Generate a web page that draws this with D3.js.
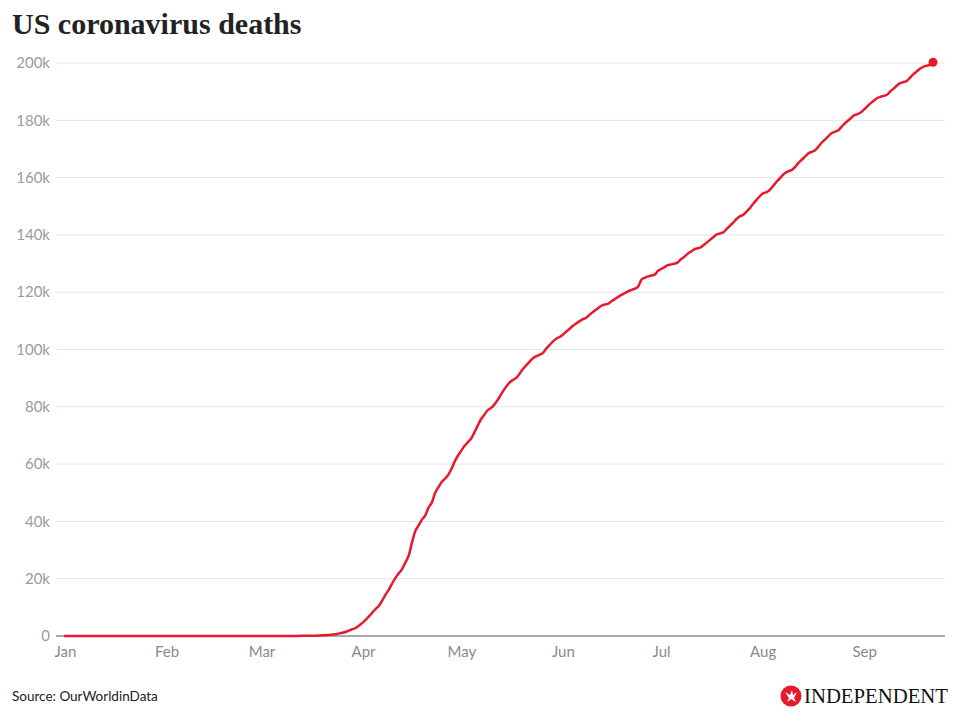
<!DOCTYPE html>
<html><head><meta charset="utf-8">
<script src="https://cdn.jsdelivr.net/npm/d3@7"></script>
<style>
body{margin:0;background:#fff;}
svg{display:block;}
</style></head>
<body>
<svg id="chart" width="960" height="726"></svg>
<script>
// ---- DATA ----
const title = "US coronavirus deaths";
const source = "Source: OurWorldinData";
const yTicks = [0, 20000, 40000, 60000, 80000, 100000, 120000, 140000, 160000, 180000, 200000];
const yTickLabels = ["0","20k","40k","60k","80k","100k","120k","140k","160k","180k","200k"];
const monthTicks = ["2020-01-01","2020-02-01","2020-03-01","2020-04-01","2020-05-01","2020-06-01","2020-07-01","2020-08-01","2020-09-01"];
const monthLabels = ["Jan","Feb","Mar","Apr","May","Jun","Jul","Aug","Sep"];
// sparse early points (no deaths yet)
const earlyDates = ["2020-01-01","2020-01-22","2020-02-15","2020-02-29"];
const earlyDeaths = [0, 0, 0, 0];
// daily cumulative deaths from this date onward
const dailyStart = "2020-03-01";
const dailyDeaths = [
  // March
  1,6,9,11,12,14,17,21,22,28,36,40,47,54,63,85,108,118,200,244,307,427,552,706,942,1209,1581,2026,2467,2978,3873,
  // April
  4757,5926,7087,8407,9619,10783,12722,14695,16478,18586,20463,22020,23529,25832,28326,32916,36773,38664,40661,42094,44845,46622,49954,51949,53755,54881,56219,58355,60966,62996,
  // May
  64715,66369,67682,68934,71078,73431,75662,77180,78795,79526,80682,82246,84059,85898,87530,88754,89562,90347,91921,93439,94702,95979,97049,97689,98220,98916,100442,101617,102836,103781,104381,
  // June
  105147,106195,107175,108211,109042,109802,110514,111007,111978,112967,113820,114669,115436,115732,116127,116963,117717,118435,119132,119719,120402,120802,121225,121979,124415,125039,125539,125803,126140,127425,
  // July
  128105,128740,129437,129676,129947,130306,131480,132309,133291,134097,134862,135291,135605,136466,137403,138360,139266,140157,140534,140905,142064,143190,144305,145546,146463,146935,148056,149256,150716,152075,153314,
  // August
  154447,154860,155478,156801,158249,159435,160737,161687,162222,162766,163833,165229,166317,167434,168508,169006,169546,170796,172166,173289,174370,175480,175993,176426,177632,178823,179838,180826,181786,182191,182779,
  // September
  183830,184961,185982,186898,187780,188239,188542,188938,190110,191063,192177,192939,193350,193715,194902,196116,197023,197966,198663,199059,199371,200275
];

// ---- BUILD ----
const parse = d3.timeParse("%Y-%m-%d");
const points = earlyDates.map((d,i)=>({date:parse(d), value:earlyDeaths[i]}));
const start = parse(dailyStart);
dailyDeaths.forEach((v,i)=>points.push({date:d3.timeDay.offset(start,i), value:v}));
const last = points[points.length-1];

const svg = d3.select("#chart");
const x = d3.scaleTime().domain([parse("2020-01-01"), last.date]).range([65, 933]);
const y = d3.scaleLinear().domain([0, 200000]).range([636, 63]);

// title
svg.append("text").attr("x",12).attr("y",34)
  .attr("font-family","'Liberation Serif','Times New Roman',serif")
  .attr("font-weight","bold").attr("font-size",30).attr("fill","#222")
  .text(title);

// gridlines + y labels
const yAxis = svg.append("g");
yTicks.forEach((t,i)=>{
  if(t!==0){
    yAxis.append("line").attr("x1",56).attr("x2",945).attr("y1",y(t)).attr("y2",y(t))
      .attr("stroke","#e3e3e3").attr("stroke-width",1);
  }
  yAxis.append("text").attr("x",50).attr("y",y(t)).attr("dy","0.35em")
    .attr("text-anchor","end").attr("font-family","Lato,sans-serif").attr("font-size",15)
    .attr("fill","#9b9b9b").text(yTickLabels[i]);
});

// x axis
const xAxis = d3.axisBottom(x)
  .tickValues(monthTicks.map(parse))
  .tickFormat((d,i)=>monthLabels[i])
  .tickSize(0).tickPadding(10);
const gx = svg.append("g").attr("transform","translate(0,636)").call(xAxis);
gx.select(".domain").remove();
gx.selectAll("text").attr("font-family","Lato,sans-serif").attr("font-size",15).attr("fill","#8a8a8a");
svg.append("line").attr("x1",56).attr("x2",945).attr("y1",y(0)).attr("y2",y(0))
  .attr("stroke","#8c8c8c").attr("stroke-width",1.5);

// line
const line = d3.line().x(d=>x(d.date)).y(d=>y(d.value)).curve(d3.curveMonotoneX);
svg.append("path").datum(points).attr("d",line)
  .attr("fill","none").attr("stroke","#e8192c").attr("stroke-width",2.5)
  .attr("stroke-linejoin","round").attr("stroke-linecap","round");
svg.append("circle").attr("cx",x(last.date)).attr("cy",y(last.value)).attr("r",4.5).attr("fill","#e8192c");

// source
svg.append("text").attr("x",12).attr("y",701)
  .attr("font-family","Lato,sans-serif").attr("font-size",13.5).attr("fill","#222")
  .text(source);

// logo
const logo = svg.append("g").attr("transform","translate(791,696)");
logo.append("circle").attr("r",10.5).attr("fill","#e8192c");
logo.append("path").attr("d","M-6,-4 L-1,-1 L1,-6 L2,-1 L6,-4 L3,2 L5,6 L0,3 L-4,6 L-2,2 Z").attr("fill","#fff");
svg.append("text").attr("x",804).attr("y",703)
  .attr("font-family","'Liberation Serif','Times New Roman',serif").attr("font-size",21)
  .attr("fill","#111").attr("textLength",144).attr("lengthAdjust","spacingAndGlyphs")
  .text("INDEPENDENT");
</script>
</body></html>
